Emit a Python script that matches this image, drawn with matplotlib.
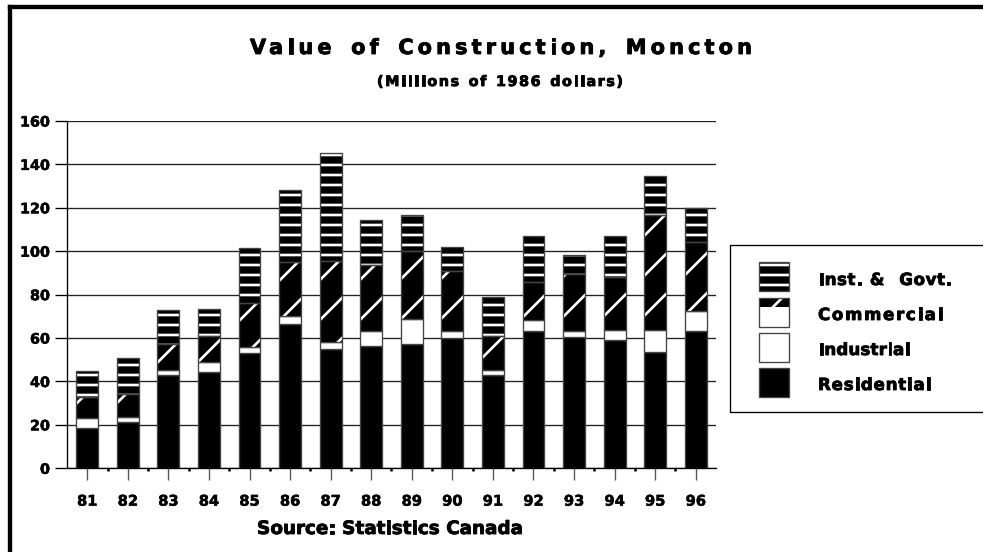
import numpy as np
import matplotlib.pyplot as plt
import matplotlib.patheffects as pe
from matplotlib.patches import Rectangle
from matplotlib.lines import Line2D

years = ['81', '82', '83', '84', '85', '86', '87', '88',
         '89', '90', '91', '92', '93', '94', '95', '96']
residential = [18.5, 21.2, 42.8, 44.2, 53.1, 66.5, 55.1, 56.2,
               57.2, 60.0, 42.8, 63.1, 60.3, 59.2, 53.5, 63.1]
industrial = [4.6, 2.6, 2.6, 4.7, 2.7, 3.5, 3.1, 6.9,
              11.7, 3.1, 2.6, 5.1, 2.8, 4.6, 10.3, 9.5]
commercial = [9.7, 10.4, 11.8, 11.9, 20.4, 24.9, 37.2, 30.7,
              31.1, 27.7, 15.7, 17.5, 26.4, 24.2, 52.7, 31.6]
inst_govt = [11.8, 16.6, 15.9, 12.6, 25.3, 33.1, 49.7, 20.4,
             16.5, 11.2, 17.7, 21.2, 8.7, 18.9, 18.1, 15.5]
legend_labels = ['Inst. &  Govt.', 'Commercial', 'Industrial', 'Residential']

W, H = 984, 552
plt.rcParams['font.family'] = 'DejaVu Sans'
plt.rcParams['font.weight'] = 'bold'
plt.rcParams['hatch.linewidth'] = 1.6

fig = plt.figure(figsize=(W / 120, H / 120), dpi=120)
ax = fig.add_axes([67 / W, 1 - 468.3 / H, (716 - 67) / W, (468.3 - 121) / H])
heavy = [pe.withStroke(linewidth=0.5, foreground='black')]


def px(x, y):
    return x / W, 1 - y / H


def tracked(s, x, y, size, width, ha='center'):
    # text with extra letter spacing, stretched to a given pixel width
    r = fig.canvas.get_renderer()

    def tw(txt):
        if not txt:
            return 0.0
        t = fig.text(0, 0, txt, fontsize=size, fontweight='bold')
        w = t.get_window_extent(r).width
        t.remove()
        return w

    words = s.split(' ')
    space = tw('i i') - tw('ii')
    nat = sum(tw(w) for w in words) + space * (len(words) - 1)
    n = sum(max(len(w) - 1, 0) for w in words) + 3 * (len(words) - 1)
    tr = max((width - nat) / n, 0)
    x0 = x - width / 2 if ha == 'center' else x
    for w in words:
        for i, ch in enumerate(w):
            cx = x0 + tw(w[:i + 1]) - tw(ch) + i * tr
            fig.text(*px(cx, y), ch, fontsize=size, fontweight='bold',
                     va='baseline', ha='left', path_effects=heavy)
        x0 += tw(w) + max(len(w) - 1, 0) * tr + space + 3 * tr


x = np.arange(len(years))
bw = 0.54
base = np.zeros(len(years))
series = [(residential, 'black', None), (industrial, 'white', None),
          (commercial, 'black', '/'), (inst_govt, 'black', '--')]
for vals, fc, hatch in series:
    vals = np.array(vals)
    if hatch:
        ax.bar(x, vals, bw, bottom=base, color=fc, edgecolor='white',
               hatch=hatch, linewidth=0, zorder=2)
        ax.bar(x, vals, bw, bottom=base, facecolor='none', edgecolor='#444',
               linewidth=0.8, zorder=3)
    else:
        ax.bar(x, vals, bw, bottom=base, facecolor=fc, edgecolor='#444',
               linewidth=0.8, zorder=2)
    base += vals

ax.set_xlim(-0.5, 15.5)
ax.set_ylim(0, 160)
ax.set_yticks(range(0, 161, 20))
ax.set_xticks(x, years)
ax.set_xticks(x[:-1] + 0.5, minor=True)
ax.yaxis.grid(True, color='#222', linewidth=0.8, zorder=0)
ax.set_axisbelow(True)
for s in ['top', 'right']:
    ax.spines[s].set_visible(False)
ax.spines['left'].set_linewidth(0.8)
ax.spines['bottom'].set_linewidth(0.8)
ax.tick_params(axis='y', length=7.2, width=0.8, pad=3, labelsize=8.6)
ax.tick_params(axis='x', which='major', length=7.2, width=0.8, color='#555',
               pad=8, labelsize=8.8)
ax.tick_params(axis='x', which='minor', length=1.5, width=1.5)
for lab in ax.get_xticklabels() + ax.get_yticklabels():
    lab.set_path_effects([pe.withStroke(linewidth=0.3, foreground='black')])

tracked('Value of Construction, Moncton', 501, 54, 12.5, 502)
tracked('(Millions of 1986 dollars)', 500, 86, 8.6, 246)
tracked('Source: Statistics Canada', 390, 534, 11, 266)

# legend drawn by hand
fig.add_artist(Rectangle(px(730, 412), 270 / W, 167 / H, transform=fig.transFigure,
                         facecolor='white', edgecolor='black', linewidth=0.8))
rows = [262, 298, 333, 368]
widths = [134, 125, 92, 113]
baselines = [285, 320, 355, 390]
for i, lab in enumerate(legend_labels):
    top = rows[i]
    if i == 0:
        fig.add_artist(Rectangle(px(759, top + 29), 30 / W, 29 / H, transform=fig.transFigure,
                                 facecolor='black', edgecolor='white', hatch='--', linewidth=0))
    elif i == 1:
        fig.add_artist(Rectangle(px(759, top + 29), 30 / W, 29 / H, transform=fig.transFigure,
                                 facecolor='white', linewidth=0))
        fig.add_artist(Rectangle(px(759, top + 9), 30 / W, 9 / H, transform=fig.transFigure,
                                 facecolor='black', edgecolor='white', hatch='/', linewidth=0))
    elif i == 2:
        fig.add_artist(Rectangle(px(759, top + 29), 30 / W, 29 / H, transform=fig.transFigure,
                                 facecolor='white', linewidth=0))
    else:
        fig.add_artist(Rectangle(px(759, top + 29), 30 / W, 29 / H, transform=fig.transFigure,
                                 facecolor='black', linewidth=0))
    fig.add_artist(Rectangle(px(759, top + 29), 30 / W, 29 / H, transform=fig.transFigure,
                             facecolor='none', edgecolor='#444', linewidth=0.8))
    tracked(lab, 818, baselines[i], 10, widths[i], ha='left')

# frame lines at top and left
fig.add_artist(Line2D([10 / W, 1], [1 - 7 / H] * 2, color='black', linewidth=2.6,
                      solid_capstyle='projecting'))
fig.add_artist(Line2D([10 / W] * 2, [0, 1 - 7 / H], color='black', linewidth=2.6,
                      solid_capstyle='projecting'))

fig.savefig('out.png', dpi=120)
